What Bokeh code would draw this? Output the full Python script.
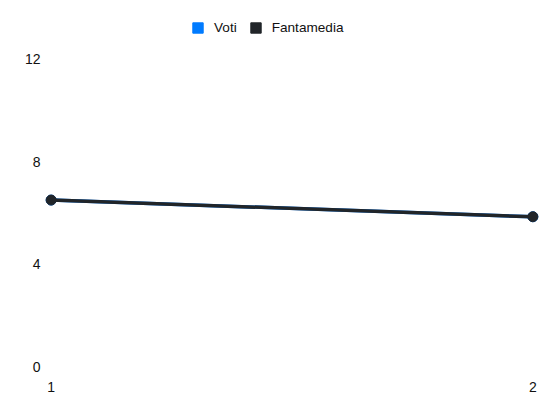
from bokeh.plotting import figure
from bokeh.models import Range1d, FixedTicker, Legend, LegendItem, ColumnDataSource
from bokeh.embed import file_html
from bokeh.resources import INLINE

giornate = [1, 2]
voti = [6.5, 5.85]
fantamedia = [6.5, 5.85]
y_ticks = [0, 4, 8, 12]

VOTI_COLOR = "#007bff"
FM_COLOR = "#212529"
FONT = "Liberation Sans"

p = figure(width=542, height=396, output_backend="svg", toolbar_location=None,
           x_range=Range1d(0.98, 2.02), y_range=Range1d(-0.3, 13.89),
           min_border_left=41, min_border_right=0, min_border_top=10, min_border_bottom=22)
p.outline_line_color = None
p.grid.visible = False

for ax in (p.xaxis[0], p.yaxis[0]):
    ax.axis_line_color = None
    ax.major_tick_line_color = None
    ax.minor_tick_line_color = None
    ax.major_tick_out = 0
    ax.major_tick_in = 0
    ax.minor_tick_out = 0
    ax.minor_tick_in = 0
    ax.major_label_text_font = FONT
    ax.major_label_text_font_size = "14px"
    ax.major_label_text_color = "#111111"
p.xaxis.ticker = FixedTicker(ticks=giornate)
p.yaxis.ticker = FixedTicker(ticks=y_ticks)
p.yaxis.major_label_standoff = 1
p.xaxis.major_label_standoff = 7

src = ColumnDataSource(dict(x=giornate, v=voti, f=fantamedia))
p.line("x", "v", source=src, line_color=VOTI_COLOR, line_width=3.5)
p.scatter("x", "v", source=src, size=10, fill_color=VOTI_COLOR, line_color=VOTI_COLOR)
p.line("x", "f", source=src, line_color=FM_COLOR, line_width=3.5)
p.scatter("x", "f", source=src, size=10, fill_color=FM_COLOR, line_color=FM_COLOR)

nan = float("nan")
swatch = ColumnDataSource(dict(l=[nan], r=[nan], b=[nan], t=[nan]))
q1 = p.quad(left="l", right="r", bottom="b", top="t", source=swatch,
            fill_color=VOTI_COLOR, line_color=VOTI_COLOR, line_join="miter")
q2 = p.quad(left="l", right="r", bottom="b", top="t", source=swatch,
            fill_color=FM_COLOR, line_color=FM_COLOR, line_join="miter")

legend = Legend(items=[LegendItem(label="Voti", renderers=[q1]),
                       LegendItem(label="Fantamedia", renderers=[q2])],
                orientation="horizontal", location=(150, 339),
                glyph_width=13, glyph_height=13, label_height=13,
                label_standoff=10, spacing=12, padding=0, margin=0,
                border_line_color=None, background_fill_alpha=0,
                label_text_font=FONT, label_text_font_size="13.6px",
                label_text_color="#111111")
p.add_layout(legend, "center")

open("out.html", "w").write(file_html(p, INLINE))
